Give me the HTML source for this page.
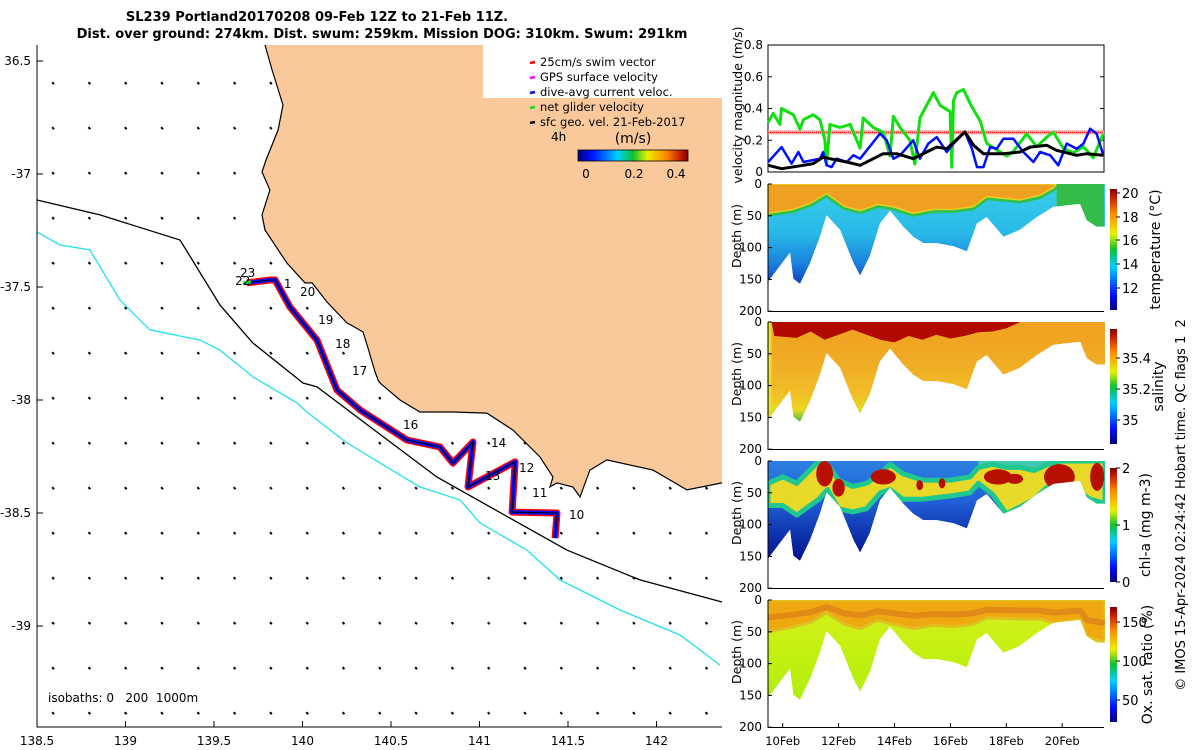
<!DOCTYPE html>
<html><head><meta charset="utf-8"><title>SL239 glider mission chart</title>
<style>
html,body{margin:0;padding:0;background:#fff;}
svg{display:block;font-family:"DejaVu Sans","Liberation Sans",sans-serif;}
.pre{white-space:pre;}
</style></head>
<body>
<svg id="chart" xmlns="http://www.w3.org/2000/svg" width="1200" height="750" viewBox="0 0 1200 750">
<defs>
<linearGradient id="jetV" x1="0" y1="1" x2="0" y2="0">
<stop offset="0" stop-color="#00007f"/><stop offset="0.13" stop-color="#0010ff"/><stop offset="0.36" stop-color="#00d0ff"/><stop offset="0.5" stop-color="#10c030"/><stop offset="0.63" stop-color="#e8f000"/><stop offset="0.8" stop-color="#ff8800"/><stop offset="0.93" stop-color="#c81e00"/><stop offset="1" stop-color="#800000"/>
</linearGradient>
<linearGradient id="jetH" x1="0" y1="0" x2="1" y2="0">
<stop offset="0" stop-color="#00007f"/><stop offset="0.13" stop-color="#0010ff"/><stop offset="0.36" stop-color="#00d0ff"/><stop offset="0.5" stop-color="#10c030"/><stop offset="0.63" stop-color="#e8f000"/><stop offset="0.8" stop-color="#ff8800"/><stop offset="0.93" stop-color="#c81e00"/><stop offset="1" stop-color="#800000"/>
</linearGradient>
<linearGradient id="gTemp" gradientUnits="userSpaceOnUse" x1="0" y1="184" x2="0" y2="284">
<stop offset="0" stop-color="#38d0e8"/><stop offset="0.5" stop-color="#28b8e8"/><stop offset="0.8" stop-color="#1a80dc"/><stop offset="1" stop-color="#0c40c0"/>
</linearGradient>
<linearGradient id="gSal" gradientUnits="userSpaceOnUse" x1="0" y1="322" x2="0" y2="422">
<stop offset="0" stop-color="#f0a020"/><stop offset="0.4" stop-color="#f0ac24"/><stop offset="0.7" stop-color="#f2bc28"/><stop offset="0.88" stop-color="#e8d820"/><stop offset="1" stop-color="#40c040"/>
</linearGradient>
<linearGradient id="gChl" gradientUnits="userSpaceOnUse" x1="0" y1="461" x2="0" y2="561">
<stop offset="0" stop-color="#2c80e0"/><stop offset="0.4" stop-color="#2060d8"/><stop offset="0.7" stop-color="#1038b0"/><stop offset="1" stop-color="#001090"/>
</linearGradient>
<linearGradient id="gOxy" gradientUnits="userSpaceOnUse" x1="0" y1="600" x2="0" y2="700">
<stop offset="0" stop-color="#d8f020"/><stop offset="0.5" stop-color="#c4f010"/><stop offset="1" stop-color="#b0ee10"/>
</linearGradient>
</defs>
<g id="map"></g>
<g id="right"></g>
</svg>
<script>
// ---------- DATA ----------
const coastLon = [139.788,139.828,139.890,139.862,139.794,139.771,139.816,139.771,139.788,139.912,140.014,140.054,140.138,140.251,140.302,140.342,140.370,140.393,140.410,140.427,140.438,140.551,140.664,140.850,141.042,141.189,141.342,141.415,141.398,141.438,141.528,141.568,141.624,141.720,141.980,142.172,142.370];
const coastLat = [-36.429,-36.540,-36.695,-36.805,-36.938,-36.991,-37.071,-37.181,-37.248,-37.394,-37.482,-37.482,-37.566,-37.659,-37.681,-37.699,-37.770,-37.832,-37.876,-37.912,-37.925,-38.000,-38.053,-38.053,-38.058,-38.133,-38.252,-38.341,-38.385,-38.367,-38.385,-38.429,-38.310,-38.265,-38.310,-38.398,-38.367];
const iso200Lon = [138.5,138.856,139.308,139.534,139.720,140.003,140.082,140.760,141.494,141.907,142.370];
const iso200Lat = [-37.115,-37.181,-37.292,-37.580,-37.748,-37.925,-37.942,-38.341,-38.664,-38.796,-38.894];
const iso1000Lon = [138.5,138.630,138.799,138.969,139.138,139.421,139.534,139.720,139.969,140.025,140.251,140.664,140.890,141.003,141.268,141.455,141.794,142.133,142.246,142.359];
const iso1000Lat = [-37.257,-37.314,-37.336,-37.558,-37.690,-37.735,-37.779,-37.898,-38.013,-38.053,-38.190,-38.385,-38.442,-38.544,-38.664,-38.796,-38.929,-39.040,-39.106,-39.173];
const trackLon = [139.686,139.816,139.845,139.929,140.082,140.195,140.325,140.590,140.777,140.850,140.963,140.935,141.201,141.184,141.438,141.427];
const trackLat = [-37.482,-37.469,-37.469,-37.588,-37.735,-37.956,-38.044,-38.177,-38.208,-38.279,-38.186,-38.385,-38.274,-38.496,-38.500,-38.611];
const dayLabels = ["23","22","1","20","19","18","17","16","14","13","12","11","10"];
const dayLabelLon = [139.647,139.619,139.895,139.986,140.088,140.184,140.280,140.568,141.065,141.031,141.223,141.297,141.506];
const dayLabelLat = [-37.438,-37.473,-37.487,-37.522,-37.646,-37.752,-37.872,-38.111,-38.190,-38.336,-38.301,-38.412,-38.509];
const lonTicks = [138.5,139,139.5,140,140.5,141,141.5,142];
const lonTickLabels = ["138.5","139","139.5","140","140.5","141","141.5","142"];
const latTicks = [-36.5,-37,-37.5,-38,-38.5,-39];
const latTickLabels = ["36.5","-37","-37.5","-38","-38.5","-39"];

const greenDays = [9.47,9.66,9.90,9.96,10.38,10.62,10.74,11.09,11.33,11.51,11.57,11.69,12.05,12.41,12.77,12.88,13.24,13.60,13.84,13.96,14.20,14.55,14.73,14.91,15.39,15.63,15.99,16.05,16.11,16.23,16.47,16.71,17.07,17.30,17.66,18.02,18.25,18.73,19.09,19.45,19.68,20.04,20.40,20.76,21.11,21.47];
const greenVals = [0.31,0.37,0.30,0.40,0.36,0.27,0.33,0.36,0.33,0.20,0.05,0.30,0.28,0.30,0.15,0.34,0.28,0.25,0.10,0.35,0.28,0.20,0.05,0.34,0.50,0.42,0.38,0.03,0.45,0.50,0.52,0.43,0.32,0.18,0.14,0.10,0.13,0.24,0.16,0.22,0.25,0.15,0.12,0.16,0.09,0.24];
const blueDays = [9.48,9.96,10.32,10.56,10.74,11.33,11.45,11.57,11.75,11.93,12.29,12.53,12.77,13.01,13.48,13.72,13.96,14.20,14.67,14.91,15.21,15.51,15.87,16.11,16.52,16.77,16.95,17.18,17.42,17.66,17.90,18.25,18.61,18.97,19.21,19.57,19.86,20.16,20.52,20.76,21.00,21.23,21.47];
const blueVals = [0.063,0.157,0.053,0.126,0.063,0.084,0.126,0.042,0.031,0.084,0.063,0.105,0.084,0.137,0.242,0.200,0.084,0.105,0.200,0.084,0.179,0.220,0.126,0.179,0.252,0.147,0.031,0.031,0.157,0.147,0.210,0.210,0.126,0.063,0.126,0.105,0.042,0.179,0.147,0.179,0.273,0.242,0.105];
const blackDays = [9.48,9.96,10.74,11.09,11.45,11.69,12.29,12.77,13.24,13.60,14.08,14.67,15.15,15.51,15.87,16.52,16.83,17.18,17.90,18.49,18.85,19.45,19.80,20.52,20.88,21.47];
const blackVals = [0.042,0.021,0.042,0.053,0.094,0.084,0.063,0.042,0.084,0.115,0.115,0.084,0.126,0.157,0.147,0.252,0.168,0.115,0.115,0.126,0.157,0.168,0.137,0.105,0.115,0.105];
const swimTarget = [0.25];
const velTicks = [0,0.2,0.4,0.6,0.8];
const velTickLabels = ["0","0.2","0.4","0.6","0.8"];

const secDays = [9.47,9.90,10.26,10.38,10.62,10.98,11.33,11.57,12.05,12.53,12.77,13.12,13.48,13.84,14.31,14.67,15.03,15.51,16.11,16.59,16.95,17.30,17.90,18.49,19.09,19.68,20.64,20.88,21.23,21.53];
const secBottom = [154,129,108,149,157,124,83,49,72,124,144,113,62,42,67,83,93,93,98,106,62,52,83,72,52,36,31,57,67,67];
const tempMldDays = [9.47,10.38,11.0,11.57,12.2,12.77,13.4,13.96,14.67,15.4,16.11,16.8,17.30,18.49,19.2,19.68,19.8];
const tempMld = [46,40,30,15,35,42,32,36,46,40,40,36,20,25,18,6,0];
const tempWarmEnd = [19.8];
const salTopDays = [9.6,9.7,10.5,11.0,11.5,12.0,12.5,13.0,13.5,14.0,14.5,15.0,15.5,16.0,16.5,17.0,17.5,18.0,18.5];
const salTop = [0,22,25,15,28,20,12,20,28,32,22,28,20,26,22,16,15,10,0];
const chlBandDays = [9.47,10.0,10.5,11.3,11.6,12.0,12.5,13.0,13.5,13.84,14.3,15.0,16.0,16.7,17.0,17.5,18.0,18.5,19.0,19.5,20.0,21.0,21.53];
const chlBandTop = [35,25,35,0,5,30,40,35,20,5,20,30,30,25,10,5,10,10,15,5,0,0,0];
const chlBandBot = [70,70,85,60,45,75,80,75,50,45,60,60,55,50,35,52,83,72,60,40,31,60,67];
const chlBlobDay = [11.5,12.0,13.6,14.9,15.7,17.7,18.3,19.9,21.25];
const chlBlobDepth = [20,42,25,38,35,25,28,25,25];
const chlBlobHalfDays = [0.3,0.22,0.45,0.12,0.12,0.5,0.3,0.55,0.25];
const chlBlobHalfDepth = [20,14,12,8,8,12,8,20,22];
const oxyMldDays = [9.47,10.4,11.0,11.57,12.2,12.77,13.4,13.96,14.67,15.4,16.11,16.8,17.3,18.49,19.2,19.68,20.64,20.88,21.53];
const oxyMld = [50,42,35,20,38,45,32,38,45,40,42,38,28,30,30,36,31,57,67];
const dateTicks = [10,12,14,16,18,20];
const dateTickLabels = ["10Feb","12Feb","14Feb","16Feb","18Feb","20Feb"];

// ---------- HELPERS ----------
const NS = "http://www.w3.org/2000/svg";
function mk(tag, attrs, parent){const e=document.createElementNS(NS,tag);for(const k in attrs)e.setAttribute(k,attrs[k]);parent.appendChild(e);return e;}
function txt(str, attrs, parent){const e=mk("text",attrs,parent);e.textContent=str;return e;}
const LX = lon => 37 + (lon-138.5)*177;
const LY = lat => 61 + (-36.5-lat)*226;
const X = d => 782.7 + (d-10)*27.95;
const VY = v => 172 - v*158.75;
const panelTop = {temp:184, sal:322, chl:461, oxy:600};
const DY = (top,m) => top + m*0.636;
function ptsStr(xs,ys){return xs.map((x,i)=>x.toFixed(1)+","+ys[i].toFixed(1)).join(" ");}

const map = document.getElementById("map");
const right = document.getElementById("right");

// ---------- MAP ----------
const t1 = txt("SL239 Portland20170208 09-Feb 12Z to 21-Feb 11Z.",{x:317,y:21,"text-anchor":"middle","font-size":"13","font-weight":"bold"},map);


const t2 = txt("Dist. over ground: 274km. Dist. swum: 259km. Mission DOG: 310km. Swum: 291km",{x:382,y:38,"text-anchor":"middle","font-size":"13","font-weight":"bold"},map);



const landX = coastLon.map(LX), landY = coastLat.map(LY);
const landPts = ptsStr(landX,landY) + " 722,483 722,45 " + landX[0].toFixed(1)+",45";
const land = mk("polygon",{points:landPts,fill:"#fac99b",stroke:"none"},map);


const coast = mk("polyline",{points:ptsStr(landX,landY),fill:"none",stroke:"#000","stroke-width":"1.2"},map);



const lbox = mk("rect",{x:483,y:45,width:239,height:53,fill:"#fff"},map);



const i200 = mk("polyline",{points:ptsStr(iso200Lon.map(LX),iso200Lat.map(LY)),fill:"none",stroke:"#000","stroke-width":"1.3"},map);


const i1000 = mk("polyline",{points:ptsStr(iso1000Lon.map(LX),iso1000Lat.map(LY)),fill:"none",stroke:"#22e0f0","stroke-width":"1.3"},map);



const vf = mk("g",{},map);


for(let r=0;r<15;r++){for(let c=0;c<19;c++){
  const px=53+c*36.3, py=83+r*45;
  if(px>720)continue;
  const pt=document.getElementById("chart").createSVGPoint(); pt.x=px; pt.y=py;
  if(land.isPointInFill(pt))continue;
  if(px>480&&py<100)continue;
  const a = mk("line",{x1:px-0.8,y1:py-0.8,x2:px+1,y2:py+1.2,stroke:"#000","stroke-width":"2"},vf);
  
  
}}

const tx = trackLon.map(LX), ty = trackLat.map(LY);
const trRed = mk("polyline",{points:ptsStr(tx,ty),fill:"none",stroke:"#ff0000","stroke-width":"7","stroke-linejoin":"round"},map);


const trBlue = mk("polyline",{points:ptsStr(tx,ty),fill:"none",stroke:"#0010ff","stroke-width":"4","stroke-linejoin":"round"},map);


const trBlack = mk("polyline",{points:ptsStr(tx,ty),fill:"none",stroke:"#000","stroke-width":"1"},map);


const gStart = mk("line",{x1:tx[0]-4,y1:ty[0],x2:tx[0]+4,y2:ty[0]-1,stroke:"#10e010","stroke-width":"3"},map);


dayLabels.forEach((s,i)=>{
  const e = txt(s,{x:LX(dayLabelLon[i]),y:LY(dayLabelLat[i])+4,"font-size":"12"},map);
  
  
});

const legItems = [["25cm/s swim vector","#ff0000"],["GPS surface velocity","#ff00ff"],["dive-avg current veloc.","#0010ff"],["net glider velocity","#10e010"],["sfc geo. vel. 21-Feb-2017","#000"]];
legItems.forEach((it,i)=>{
  const y=62+i*15;
  const sw = mk("line",{x1:530,y1:y+1,x2:535,y2:y,stroke:it[1],"stroke-width":"2.5"},map);
  
  
  const lt = txt(it[0],{x:540,y:y+4,"font-size":"11.5"},map);
  
  
});
const l4h = txt("4h",{x:551,y:141,"font-size":"12"},map);


const lunit = txt("(m/s)",{x:633,y:143,"font-size":"14","text-anchor":"middle"},map);


const mcb = mk("rect",{x:578,y:150,width:110,height:11,fill:"url(#jetH)",stroke:"#000","stroke-width":"0.8"},map);


[["0",586],["0.2",634],["0.4",676]].forEach(p=>{
  const e=txt(p[0],{x:p[1],y:178,"font-size":"12","text-anchor":"middle"},map);
  
  
});

const mAx = mk("polyline",{points:"37,45 37,727 722,727",fill:"none",stroke:"#000","stroke-width":"1"},map);


lonTicks.forEach((v,i)=>{
  const x=LX(v);
  const tk=mk("line",{x1:x,y1:727,x2:x,y2:721,stroke:"#000"},map);
  
  
  const tl=txt(lonTickLabels[i],{x:x,y:745,"font-size":"12","text-anchor":"middle"},map);
  
  
});
latTicks.forEach((v,i)=>{
  const y=LY(v);
  const tk=mk("line",{x1:37,y1:y,x2:43,y2:y,stroke:"#000"},map);
  
  
  const tl=txt(latTickLabels[i],{x:31,y:y+4,"font-size":"12","text-anchor":"end"},map);
  
  
});
const isoL = txt("isobaths: 0   200  1000m",{x:48,y:702,"font-size":"12","class":"pre"},map);



// ---------- VELOCITY PANEL ----------
const vel = mk("g",{},right);


const vbox = mk("rect",{x:768,y:45,width:336,height:127,fill:"#fff",stroke:"#000","stroke-width":"1"},vel);


velTicks.forEach((v,i)=>{
  const y=VY(v);
  const a=mk("line",{x1:768,y1:y,x2:772,y2:y,stroke:"#000"},vel);
  
  
  const b=mk("line",{x1:1100,y1:y,x2:1104,y2:y,stroke:"#000"},vel);
  
  
  const l=txt(velTickLabels[i],{x:763,y:y+4,"font-size":"12","text-anchor":"end"},vel);
  
  
});
const vlab = txt("velocity magnitude (m/s)",{x:0,y:0,"font-size":"12.5","text-anchor":"middle",transform:"translate(742,105) rotate(-90)"},vel);


const swimBand = mk("line",{x1:768,x2:1104,y1:VY(swimTarget[0]),y2:VY(swimTarget[0]),stroke:"#f7a0a0","stroke-width":"4"},vel);


const swimLine = mk("line",{x1:768,x2:1104,y1:VY(swimTarget[0]),y2:VY(swimTarget[0]),stroke:"#ff0000","stroke-width":"1","stroke-dasharray":"1 1"},vel);


const gLine = mk("polyline",{points:ptsStr(greenDays.map(X),greenVals.map(VY)),fill:"none",stroke:"#10e010","stroke-width":"3","stroke-linejoin":"round"},vel);


const bLine = mk("polyline",{points:ptsStr(blueDays.map(X),blueVals.map(VY)),fill:"none",stroke:"#0010ff","stroke-width":"2.5","stroke-linejoin":"round"},vel);


const kLine = mk("polyline",{points:ptsStr(blackDays.map(X),blackVals.map(VY)),fill:"none",stroke:"#000","stroke-width":"3","stroke-linejoin":"round"},vel);



// ---------- SECTIONS ----------
function envelopePts(top){
  const xs=[X(secDays[0])], ys=[top];
  secDays.forEach((d,i)=>{xs.push(X(d));ys.push(DY(top,secBottom[i]));});
  xs.push(X(secDays[secDays.length-1])); ys.push(top);
  return ptsStr(xs,ys);
}
function bandPts(top, ds, upper, lower){
  const xs=[],ys=[];
  ds.forEach((d,i)=>{xs.push(X(d));ys.push(DY(top,upper[i]));});
  for(let i=ds.length-1;i>=0;i--){xs.push(X(ds[i]));ys.push(DY(top,lower[i]));}
  return ptsStr(xs,ys);
}
function panelAxes(g, top, name){
  const ax=mk("polyline",{points:`768,${top} 768,${top+127.5} 1104,${top+127.5}`,fill:"none",stroke:"#000","stroke-width":"1"},g);
  
  
  [0,50,100,150,200].forEach(m=>{
    const y=DY(top,m);
    const tk=mk("line",{x1:768,y1:y,x2:772,y2:y,stroke:"#000"},g);
    
    
    const l=txt(String(m),{x:762,y:y+4,"font-size":"12","text-anchor":"end"},g);
    
    
  });
  const dl=txt("Depth (m)",{x:0,y:0,"font-size":"12.5","text-anchor":"middle",transform:`translate(741,${top+52}) rotate(-90)`},g);
  
  
}
function colorbar(g, y1, y2, ticks, labels, title, titleX, name){
  const cb=mk("rect",{x:1110,y:y1,width:7,height:y2-y1,fill:"url(#jetV)"},g);
  
  
  ticks.forEach((y,i)=>{
    const tk=mk("line",{x1:1116,y1:y,x2:1120,y2:y,stroke:"#000","stroke-width":"1"},g);
    
    
    const l=txt(labels[i],{x:1122,y:y+5,"font-size":"13"},g);
    
    
  });
  const tl=txt(title,{x:0,y:0,"font-size":"14","text-anchor":"middle",transform:`translate(${titleX},${(y1+y2)/2}) rotate(-90)`},g);
  
  
}
let clipN=0;
function clipFor(top){
  const id="clp"+(clipN++);
  const cp=mk("clipPath",{id:id},document.querySelector("defs"));
  mk("polygon",{points:envelopePts(top)},cp);
  return id;
}

(function(){
  const top=panelTop.temp;
  const g=mk("g",{},right);
  
  
  const inner=mk("g",{"clip-path":`url(#${clipFor(top)})`},g);
  const base=mk("polygon",{points:envelopePts(top),fill:"url(#gTemp)"},inner);
  
  
  const zero=tempMld.map(()=>0);
  const edge=mk("polyline",{points:ptsStr(tempMldDays.map(X),tempMld.map(m=>DY(top,m))),fill:"none",stroke:"#30c050","stroke-width":"7"},inner);
  
  
  const warm=mk("polygon",{points:bandPts(top,tempMldDays,zero,tempMld),fill:"#f0a020",stroke:"#e8d020","stroke-width":"1.5"},inner);
  
  
  const greenR=mk("rect",{x:X(tempWarmEnd[0]),y:top,width:1104-X(tempWarmEnd[0]),height:100,fill:"#34bc48"},inner);
  
  
  panelAxes(g,top,"temperature");
  colorbar(g,189,310,[193,217,240,264,288],["20","18","16","14","12"],"temperature (°C)",1160,"temperature");
})();

(function(){
  const top=panelTop.sal;
  const g=mk("g",{},right);
  
  
  const inner=mk("g",{"clip-path":`url(#${clipFor(top)})`},g);
  const base=mk("polygon",{points:envelopePts(top),fill:"url(#gSal)"},inner);
  
  
  const zero=salTop.map(()=>0);
  const band=mk("polygon",{points:bandPts(top,salTopDays,zero,salTop),fill:"#b00a00"},inner);
  
  
  const yl=mk("rect",{x:768,y:top,width:X(9.6)-768,height:110,fill:"#e8e030"},inner);
  
  
  panelAxes(g,top,"salinity");
  colorbar(g,329,444,[358,389,420],["35.4","35.2","35"],"salinity",1163,"salinity");
})();

(function(){
  const top=panelTop.chl;
  const g=mk("g",{},right);
  
  
  const inner=mk("g",{"clip-path":`url(#${clipFor(top)})`},g);
  const base=mk("polygon",{points:envelopePts(top),fill:"url(#gChl)"},inner);
  
  
  const east=mk("rect",{x:X(17),y:top,width:1104-X(17),height:12,fill:"#40c8b0"},inner);
  
  
  const band=mk("polygon",{points:bandPts(top,chlBandDays,chlBandTop,chlBandBot),fill:"#e8d828",stroke:"#20c890","stroke-width":"5","stroke-linejoin":"round"},inner);
  
  
  chlBlobDay.forEach((d,i)=>{
    const e=mk("ellipse",{cx:X(d),cy:DY(top,chlBlobDepth[i]),rx:chlBlobHalfDays[i]*27.95,ry:chlBlobHalfDepth[i]*0.636,fill:"#b81000"},inner);
    
    
  });
  panelAxes(g,top,"chlorophyll");
  colorbar(g,468,582,[468,525,582],["2","1","0"],"chl-a (mg m-3)",1150,"chlorophyll");
})();

(function(){
  const top=panelTop.oxy;
  const g=mk("g",{},right);
  
  
  const inner=mk("g",{"clip-path":`url(#${clipFor(top)})`},g);
  const base=mk("polygon",{points:envelopePts(top),fill:"url(#gOxy)"},inner);
  
  
  const zero=oxyMld.map(()=>0);
  const band=mk("polygon",{points:bandPts(top,oxyMldDays,zero,oxyMld),fill:"#f0a810",stroke:"#e0c020","stroke-width":"3"},inner);
  
  
  const dark=mk("polyline",{points:ptsStr(oxyMldDays.map(X),oxyMld.map(m=>DY(top,Math.max(8,m*0.55)))),fill:"none",stroke:"#e08a18","stroke-width":"6","stroke-linejoin":"round"},inner);
  
  
  panelAxes(g,top,"oxygen");
  colorbar(g,607,722,[622,661,700],["150","100","50"],"Ox. sat. ratio (%)",1152,"oxygen");
  dateTicks.forEach((d,i)=>{
    const tk=mk("line",{x1:X(d),y1:727.5,x2:X(d),y2:723,stroke:"#000"},g);
    
    
    const l=txt(dateTickLabels[i],{x:X(d),y:745,"font-size":"11.5","text-anchor":"middle"},g);
    
    
  });
})();

const imos = txt("© IMOS 15-Apr-2024 02:24:42 Hobart time. QC flags 1  2",{x:0,y:0,"font-size":"13","text-anchor":"middle","class":"pre",transform:"translate(1185,505) rotate(-90)"},right);


</script>
</body></html>
